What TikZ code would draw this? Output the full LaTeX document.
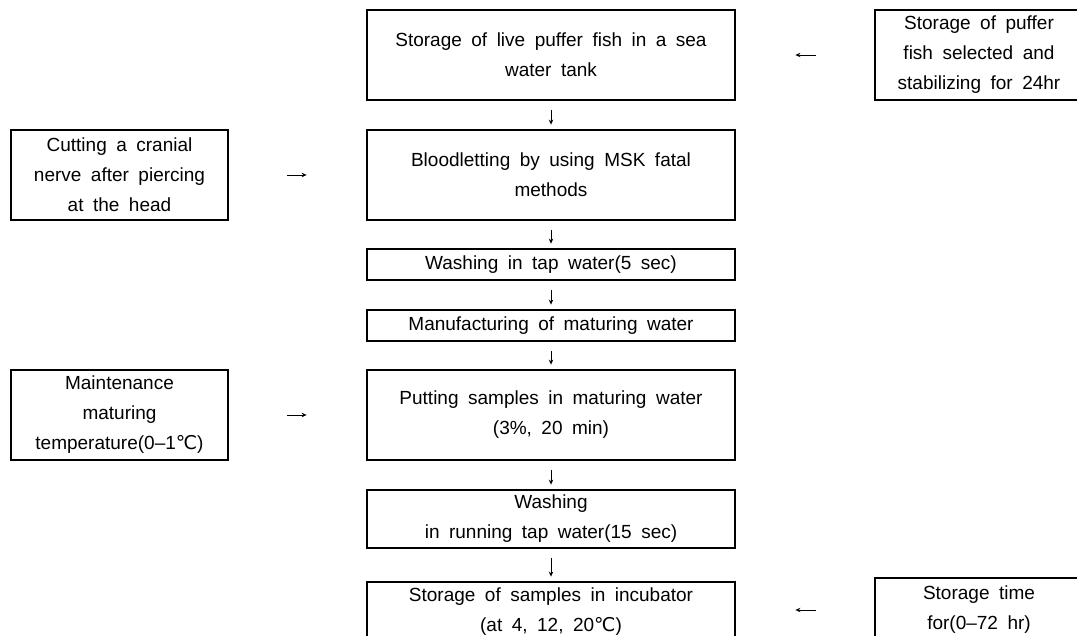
\documentclass[tikz,border=0pt]{standalone}
\usepackage{fontspec}
\setmainfont{Liberation Sans}[WordSpace={1.8}]
\newfontfamily\dvs{DejaVu Sans}
\newcommand{\degC}{{\dvs ℃}}
\usetikzlibrary{arrows.meta}
\begin{document}
\begin{tikzpicture}[x=1pt,y=-1pt,
  box/.style={draw, line width=2.8pt, inner sep=0pt, align=center,
    font=\fontsize{19}{30}\selectfont},
  cbox/.style={box, minimum width=368pt},
  lbox/.style={box, minimum width=217pt, minimum height=90pt},
  rbox/.style={box, minimum width=208pt},
  arr/.style={-{Stealth[length=5pt,width=4.5pt]}, line width=0.9pt},
  varr/.style={arr, shorten <=9pt, shorten >=4pt},
  harr/.style={arr, shorten <=58pt, shorten >=59pt},
]
\useasboundingbox (0,0) rectangle (1077,636);
\clip (0,0) rectangle (1077,636);
\fill[white] (0,0) rectangle (1077,636);

% centre column
\node[cbox, minimum height=90pt] (b1) at (551,55) {Storage of live puffer fish in a sea\\water tank};
\node[cbox, minimum height=90pt] (b2) at (551,175) {Bloodletting by using MSK fatal\\methods};
\node[cbox, minimum height=31pt] (b3) at (551,264.5) {Washing in tap water(5 sec)};
\node[cbox, minimum height=31pt] (b4) at (551,325.5) {Manufacturing of maturing water};
\node[cbox, minimum height=90pt] (b5) at (551,415) {Putting samples in maturing water\\(3\%, 20 min)};
\node[cbox, minimum height=58pt] (b6) at (551,519) {Washing\\in running tap water(15 sec)};
\node[cbox, minimum height=60pt] (b7) at (551,612) {Storage of samples in incubator\\(at 4, 12, 20\degC)};

% left column
\node[lbox] (l1) at (119.5,175) {Cutting a cranial\\nerve after piercing\\at the head};
\node[lbox] (l2) at (119.5,415) {Maintenance\\maturing\\temperature(0–1\degC)};

% right column
\node[rbox, minimum height=90pt] (r1) at (979,55) {Storage of puffer\\fish selected and\\stabilizing for 24hr};
\node[rbox, minimum height=64pt] (r2) at (979,610) {Storage time\\for(0–72 hr)};

% vertical arrows
\draw[varr] (b1) -- (b2);
\draw[varr] (b2) -- (b3);
\draw[varr] (b3) -- (b4);
\draw[varr] (b4) -- (b5);
\draw[varr] (b5) -- (b6);
\draw[varr] (b6) -- (b7);

% horizontal arrows
\draw[harr] (l1.east) -- (l1.east -| b2.west);
\draw[harr] (l2.east) -- (l2.east -| b5.west);
\draw[harr] (r1.west) -- (r1.west -| b1.east);
\draw[harr] (r2.west) -- (r2.west -| b7.east);
\end{tikzpicture}
\end{document}
